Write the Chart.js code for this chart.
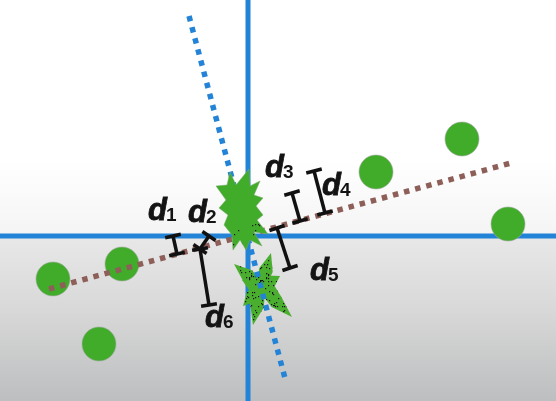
<!DOCTYPE html>
<html>
<head>
<meta charset="utf-8">
<script src="https://cdn.jsdelivr.net/npm/chart.js@4.4.1/dist/chart.umd.min.js"></script>
<style>
html,body{margin:0;padding:0;background:#fff;overflow:hidden;}
#c{display:block;}
</style>
</head>
<body>
<canvas id="c" width="556" height="401"></canvas>
<script>
// ---- data (units: axis crossing at 0,0) ----
const xRange = [-6.2, 7.7];
const yRange = [-4.125, 5.9];
const pointsX = [-4.875, -3.15, -3.725, 3.2, 5.35, 6.5];
const pointsY = [-1.075, -0.7, -2.7, 1.6, 2.425, 0.3];
const pc1X = [-4.975, 6.575];
const pc1Y = [-1.325, 1.825];
const pc2X = [-1.475, 0.95];
const pc2Y = [5.5, -3.65];
const starX = [-0.25, 0.375];
const starY = [0.65, -1.35];
const distNames = ['1', '2', '3', '4', '5', '6'];
const distFromX = [-1.775, -1.2, 1.3, 1.925, 0.725, -1.2];
const distFromY = [-0.45, -0.325, 0.375, 0.575, 0.2, -0.325];
const distToX = [-1.875, -0.975, 1.1, 1.65, 1.05, -0.975];
const distToY = [0, 0, 1.075, 1.625, -0.8, -1.725];
const labelX = [-2.5, -1.5, 0.425, 1.85, 1.55, -1.075];
const labelY = [0.4, 0.35, 1.475, 1.025, -1.1, -2.275];

// ---- styles ----
const GREEN = '#41ab2a';
const BLUE = '#2383d6';
const BROWN = '#8d5f58';

function speck(ctx, w, h, density, seed, clipTest) {
  let s = seed;
  function rnd() { s = (s * 9301 + 49297) % 233280; return s / 233280; }
  ctx.fillStyle = '#111';
  for (let i = 0; i < density; i++) {
    const x = rnd() * w, y = rnd() * h;
    if (clipTest(x, y)) ctx.fillRect(Math.round(x), Math.round(y), 1.2, 1.2);
  }
}

function makeStar1() {
  const cv = document.createElement('canvas');
  cv.width = 80; cv.height = 100;
  const g = cv.getContext('2d');
  const cx = 40, cy = 50;
  const v = [[-8,-38],[-2,-25],[11,-41],[12,-24],[22,-29],[16,-15],[25,-12],[18,-4],[25,5],[19,10],
             [30,24],[16,22],[24,36],[12,30],[8,40],[2,30],[-5,40],[-6,25],[-14,15],[-10,5],
             [-19,-2],[-12,-10],[-22,-24],[-11,-25]];
  g.beginPath();
  v.forEach((p, i) => { if (i) g.lineTo(cx + p[0], cy + p[1]); else g.moveTo(cx + p[0], cy + p[1]); });
  g.closePath();
  g.fillStyle = GREEN;
  g.fill();
  g.strokeStyle = 'rgba(120,170,110,0.5)';
  g.lineWidth = 1;
  g.stroke();
  g.save(); g.clip();
  speck(g, 80, 100, 90, 7, (x, y) => y > 62);
  g.restore();
  return cv;
}

function makeStar2() {
  const cv = document.createElement('canvas');
  cv.width = 84; cv.height = 94;
  const g = cv.getContext('2d');
  const cx = 40, cy = 44;
  const arms = [[10,-34],[-27,-23],[-19,-7],[19,-11],[31,30],[-8,38],[-18,19],[21,11]];
  g.fillStyle = '#4aae2e';
  g.beginPath(); g.arc(cx, cy, 10, 0, Math.PI * 2); g.fill();
  arms.forEach(a => {
    const len = Math.hypot(a[0], a[1]);
    const ux = a[0] / len, uy = a[1] / len;
    const nx = -uy, ny = ux;
    const w = 7;
    g.beginPath();
    g.moveTo(cx - nx * 4, cy - ny * 4);
    g.lineTo(cx + ux * len * 0.5 - nx * w, cy + uy * len * 0.5 - ny * w);
    g.lineTo(cx + a[0], cy + a[1]);
    g.lineTo(cx + ux * len * 0.5 + nx * w, cy + uy * len * 0.5 + ny * w);
    g.lineTo(cx + nx * 4, cy + ny * 4);
    g.closePath();
    g.fill();
  });
  g.globalCompositeOperation = 'source-atop';
  speck(g, 84, 94, 450, 13, () => true);
  return cv;
}

const star1Img = makeStar1();
const star2Img = makeStar2();

function xy(xs, ys) { return xs.map((x, i) => ({ x: x, y: ys[i] })); }

function capRotation(ctx) {
  const d = ctx.dataset.data;
  const sx = ctx.chart.scales.x, sy = ctx.chart.scales.y;
  const dx = sx.getPixelForValue(d[1].x) - sx.getPixelForValue(d[0].x);
  const dy = sy.getPixelForValue(d[1].y) - sy.getPixelForValue(d[0].y);
  return Math.atan2(dy, dx) * 180 / Math.PI + 90;
}

const datasets = [
  { label: 'axisH', type: 'line', data: [{ x: xRange[0], y: 0 }, { x: xRange[1], y: 0 }],
    borderColor: BLUE, borderWidth: 5, pointRadius: 0, order: 20 },
  { label: 'axisV', type: 'line', data: [{ x: 0, y: yRange[1] }, { x: 0, y: yRange[0] }],
    borderColor: BLUE, borderWidth: 5, pointRadius: 0, order: 20 },
  { label: 'points', type: 'scatter', data: xy(pointsX, pointsY),
    backgroundColor: GREEN, borderColor: 'rgba(160,170,160,0.6)', borderWidth: 1,
    pointRadius: 17, order: 15 },
  { label: 'pc1', type: 'line', data: xy(pc1X, pc1Y),
    borderColor: BROWN, borderWidth: 5.5, borderDash: [5.5, 6], borderCapStyle: 'butt',
    pointRadius: 0, order: 12 },
  { label: 'star2', type: 'scatter', data: [{ x: starX[1], y: starY[1] }],
    pointStyle: star2Img, pointRadius: 30, order: 10 },
  { label: 'pc2', type: 'line', data: xy(pc2X, pc2Y),
    borderColor: BLUE, borderWidth: 5.5, borderDash: [5.5, 6], borderCapStyle: 'butt',
    pointRadius: 0, order: 9 },
  { label: 'star1', type: 'scatter', data: [{ x: starX[0], y: starY[0] }],
    pointStyle: star1Img, pointRadius: 30, order: 8 }
];

distNames.forEach((n, i) => {
  datasets.push({
    label: 'd' + n, type: 'line',
    data: [{ x: distFromX[i], y: distFromY[i] }, { x: distToX[i], y: distToY[i] }],
    borderColor: '#111', borderWidth: 3.5, borderCapStyle: 'butt',
    pointStyle: 'line', pointRadius: 8, pointBorderWidth: 3.5, pointBorderColor: '#111',
    pointRotation: capRotation, order: 5
  });
});

const bgPlugin = {
  id: 'bg',
  beforeDraw(chart) {
    const ctx = chart.ctx, W = chart.width, H = chart.height;
    const y0 = chart.scales.y.getPixelForValue(0);
    const g1 = ctx.createLinearGradient(0, 0, 0, y0);
    g1.addColorStop(0, '#ffffff');
    g1.addColorStop(0.68, '#ffffff');
    g1.addColorStop(1, '#f4f4f4');
    ctx.fillStyle = g1;
    ctx.fillRect(0, 0, W, y0);
    const g2 = ctx.createLinearGradient(0, y0, 0, H);
    g2.addColorStop(0, '#e8e8e8');
    g2.addColorStop(0.45, '#d8d8d8');
    g2.addColorStop(1, '#bcbebf');
    ctx.fillStyle = g2;
    ctx.fillRect(0, y0, W, H - y0);
  }
};

const labelPlugin = {
  id: 'labels',
  afterDatasetsDraw(chart) {
    const ctx = chart.ctx, sx = chart.scales.x, sy = chart.scales.y;
    ctx.save();
    ctx.fillStyle = '#141414';
    ctx.strokeStyle = '#141414';
    ctx.lineWidth = 0.8;
    ctx.textBaseline = 'alphabetic';
    ctx.textAlign = 'left';
    distNames.forEach((n, i) => {
      const px = sx.getPixelForValue(labelX[i]);
      const py = sy.getPixelForValue(labelY[i]);
      ctx.font = 'italic bold 31px "Liberation Sans", Arial, sans-serif';
      ctx.fillText('d', px, py);
      ctx.strokeText('d', px, py);
      const w = ctx.measureText('d').width;
      ctx.font = 'bold 19px "Liberation Sans", Arial, sans-serif';
      ctx.fillText(n, px + w - 1, py + 1);
    });
    ctx.restore();
  }
};

new Chart(document.getElementById('c'), {
  type: 'scatter',
  data: { datasets: datasets },
  options: {
    responsive: false,
    animation: false,
    layout: { padding: 0, autoPadding: false },
    plugins: { legend: { display: false }, tooltip: { enabled: false } },
    scales: {
      x: { type: 'linear', display: false, min: xRange[0], max: xRange[1] },
      y: { type: 'linear', display: false, min: yRange[0], max: yRange[1] }
    }
  },
  plugins: [bgPlugin, labelPlugin]
});
</script>
</body>
</html>
